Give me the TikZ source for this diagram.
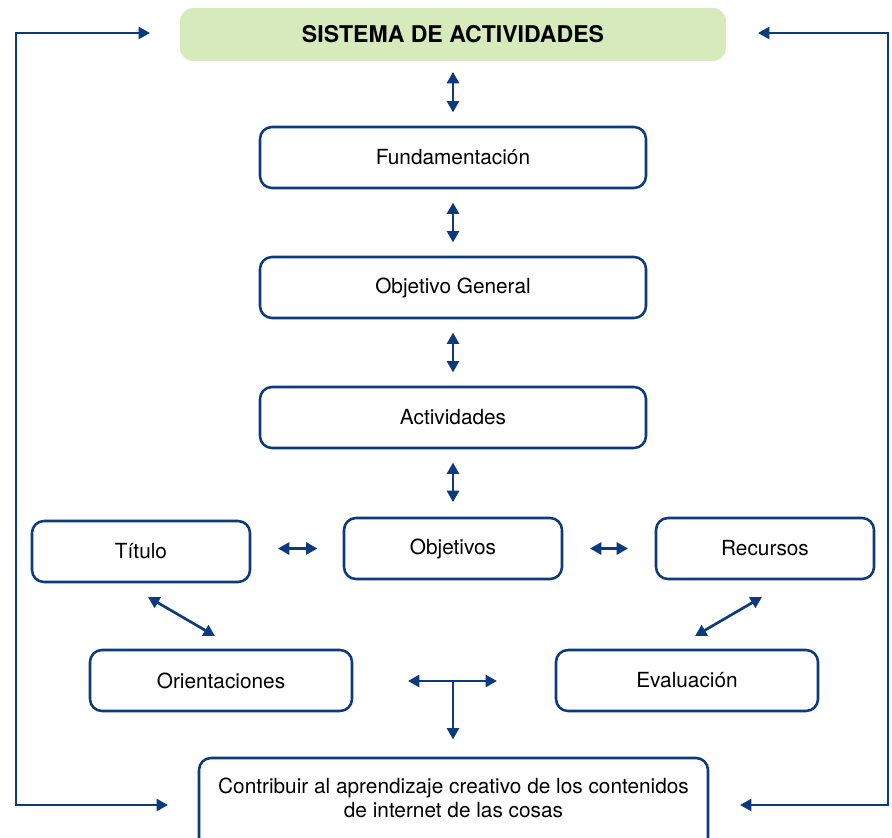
\documentclass[tikz,border=0pt]{standalone}
\usepackage{fontspec}
\setmainfont{TeX Gyre Heros}
\usetikzlibrary{arrows.meta}
\definecolor{lnblue}{HTML}{0B3A7E}
\definecolor{hdgreen}{HTML}{D6EABC}
\tikzset{
  box/.style={draw=lnblue, line width=1.9pt, rounded corners=9pt, inner sep=0pt, font=\fontsize{15.6pt}{18.5pt}\selectfont, align=center},
  hdr/.style={fill=hdgreen, rounded corners=10pt, inner sep=0pt, font=\bfseries\fontsize{17.3pt}{20pt}\selectfont},
  arr/.style={draw=lnblue, line width=2pt, -{Triangle[length=8.5pt,width=9pt]}},
  dbl/.style={draw=lnblue, line width=2pt, {Triangle[length=8.5pt,width=9pt]}-{Triangle[length=8.5pt,width=9pt]}}
}
\begin{document}
\begin{tikzpicture}[x=0.75pt,y=-0.75pt]
\useasboundingbox (0,0) rectangle (892,838);
\begin{scope}
\clip (0,0) rectangle (892,838);
% nodes
\node[hdr, minimum width=546*0.75pt, minimum height=53*0.75pt] (sis) at (453,34.5) {SISTEMA DE ACTIVIDADES};
\node[box, minimum width=386*0.75pt, minimum height=61*0.75pt] (fund) at (453,157.5) {Fundamentación};
\node[box, minimum width=386*0.75pt, minimum height=61*0.75pt] (obg) at (453,287.5) {Objetivo General};
\node[box, minimum width=386*0.75pt, minimum height=61*0.75pt] (act) at (453,417.5) {Actividades};
\node[box, minimum width=218*0.75pt, minimum height=61*0.75pt] (obj) at (453,548.5) {Objetivos};
\node[box, minimum width=218*0.75pt, minimum height=61*0.75pt] (tit) at (141,551.5) {Título};
\node[box, minimum width=218*0.75pt, minimum height=61*0.75pt] (rec) at (765,548.5) {Recursos};
\node[box, minimum width=262*0.75pt, minimum height=61*0.75pt] (ori) at (221,680.5) {Orientaciones};
\node[box, minimum width=262*0.75pt, minimum height=61*0.75pt] (eva) at (687,680.5) {Evaluación};
\node[box, minimum width=509*0.75pt, minimum height=96*0.75pt, text depth=12.5pt] (con) at (453.5,806) {Contribuir al aprendizaje creativo de los contenidos\\de internet de las cosas};
\end{scope}
% vertical double arrows
\draw[dbl, shorten <=8pt, shorten >=10pt] (sis) -- (fund);
\draw[dbl, shorten <=10pt, shorten >=10pt] (fund) -- (obg);
\draw[dbl, shorten <=10pt, shorten >=10pt] (obg) -- (act);
\draw[dbl, shorten <=10pt, shorten >=11pt] (act) -- (obj);
% horizontal double arrows
\draw[dbl, shorten <=20pt, shorten >=19pt] (tit.east |- obj.west) -- (obj.west);
\draw[dbl, shorten <=20pt, shorten >=20pt] (obj.east) -- (rec.west);
% diagonals
\coordinate (d1a) at (148,597);
\coordinate (d1b) at (215,636);
\coordinate (d2a) at (762,597);
\coordinate (d2b) at (695,636);
\draw[dbl] (d1a) -- (d1b);
\draw[dbl] (d2a) -- (d2b);
% T connector
\coordinate (tl) at (408,681);
\coordinate (tr) at (497,681);
\coordinate (tj) at (453,681);
\draw[dbl] (tl) -- (tr);
\draw[arr, shorten >=13pt] (tj) -- (tj |- con.north);
% loops
\coordinate (la) at (150,33);
\coordinate (lb) at (16,33);
\coordinate (lc) at (16,805);
\coordinate (ld) at (168,805);
\draw[dbl, line width=1.8pt] (la) -- (lb) -- (lc) -- (ld);
\coordinate (ra) at (758,33);
\coordinate (rb) at (888,33);
\coordinate (rc) at (888,805);
\coordinate (rd) at (740,805);
\draw[dbl, line width=1.8pt] (ra) -- (rb) -- (rc) -- (rd);
\end{tikzpicture}
\end{document}
